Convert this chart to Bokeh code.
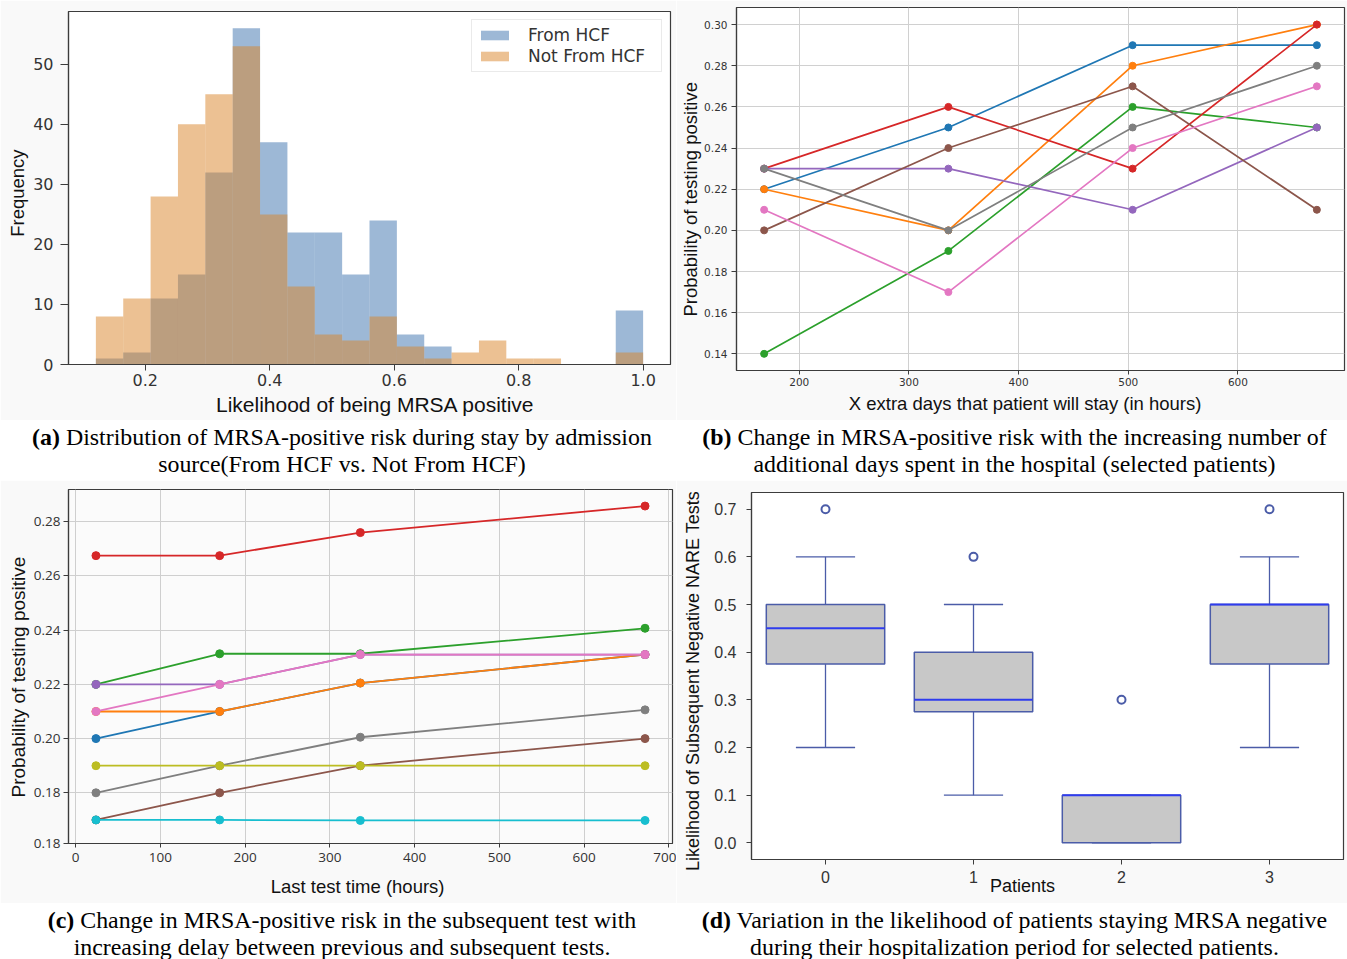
import numpy as np
from bokeh.plotting import figure
from bokeh.models import (Range1d, FixedTicker, PrintfTickFormatter, Legend,
                          LegendItem, Div)
from bokeh.layouts import column, row
from bokeh.embed import file_html
from bokeh.resources import INLINE

# ---------------- data ----------------
# (a) histogram of likelihood of being MRSA positive
hist_lo, hist_hi, hist_nbins = 0.1206, 1.0, 20
from_hcf_counts = [1, 2, 11, 15, 32, 56, 37, 22, 22, 15, 24, 5, 3, 0, 0, 0, 0, 0, 0, 9]
not_from_hcf_counts = [8, 11, 28, 40, 45, 53, 25, 13, 5, 4, 8, 3, 1, 2, 4, 1, 1, 0, 0, 2]
a_xticks = [0.2, 0.4, 0.6, 0.8, 1.0]
a_yticks = [0, 10, 20, 30, 40, 50]

# (b) extra days that patient will stay (hours)
b_hours = [168, 336, 504, 672]
b_blue = [0.22, 0.25, 0.29, 0.29]
b_orange = [0.22, 0.20, 0.28, 0.30]
b_green = [0.14, 0.19, 0.26, 0.25]
b_red = [0.23, 0.26, 0.23, 0.30]
b_purple = [0.23, 0.23, 0.21, 0.25]
b_brown = [0.20, 0.24, 0.27, 0.21]
b_pink = [0.21, 0.17, 0.24, 0.27]
b_gray = [0.23, 0.20, 0.25, 0.28]
b_xticks = [200, 300, 400, 500, 600]
b_yticks = [0.14, 0.16, 0.18, 0.20, 0.22, 0.24, 0.26, 0.28, 0.30]

# (c) last test time (hours)
c_hours = [24, 170, 336, 672]
c_blue = [0.20, 0.21, 0.2205, 0.231]
c_orange = [0.21, 0.21, 0.2205, 0.231]
c_green = [0.22, 0.2313, 0.2313, 0.2407]
c_red = [0.2675, 0.2675, 0.276, 0.2858]
c_purple = [0.22, 0.22, 0.231, 0.231]
c_brown = [0.17, 0.18, 0.19, 0.20]
c_pink = [0.21, 0.22, 0.231, 0.231]
c_gray = [0.18, 0.19, 0.2005, 0.2106]
c_olive = [0.19, 0.19, 0.19, 0.19]
c_cyan = [0.17, 0.17, 0.1698, 0.1698]
c_xticks = [0, 100, 200, 300, 400, 500, 600, 700]
c_yticks = [0.1613, 0.18, 0.20, 0.22, 0.24, 0.26, 0.28]
c_ytick_labels = ["0.18", "0.18", "0.20", "0.22", "0.24", "0.26", "0.28"]

# (d) box plot per patient
d_patients = [0, 1, 2, 3]
d_q1 = [0.375, 0.275, 0.0, 0.375]
d_median = [0.45, 0.30, 0.10, 0.50]
d_q3 = [0.50, 0.40, 0.10, 0.50]
d_whisker_low = [0.2, 0.1, 0.0, 0.2]
d_whisker_high = [0.6, 0.5, 0.1, 0.6]
d_outlier_x = [0, 1, 2, 3]
d_outlier_y = [0.7, 0.6, 0.3, 0.7]
d_yticks = [0.0, 0.1, 0.2, 0.3, 0.4, 0.5, 0.6, 0.7]

TAB = ["#1f77b4", "#ff7f0e", "#2ca02c", "#d62728", "#9467bd",
       "#8c564b", "#e377c2", "#7f7f7f", "#bcbd22", "#17becf"]

SPINE = "#3c3c3c"
BORDER_BG = "#f9f9f9"
NB = "\u00a0"


def base_style(p):
    p.outline_line_color = SPINE
    p.outline_line_width = 1.2
    p.border_fill_color = BORDER_BG
    for ax in p.axis:
        ax.axis_line_color = SPINE
        ax.axis_line_width = 1.2
        ax.major_tick_line_color = SPINE
        ax.major_tick_in = 0
        ax.minor_tick_line_color = None
        ax.axis_label_text_font_style = "normal"
        ax.axis_label_text_color = "#111111"
        ax.major_label_text_color = "#333333"


def set_axis(ax, ticks, font, size, tick_out, standoff, label=None,
             label_font="Liberation Sans", label_size="18px", label_standoff=5,
             fmt=None):
    ax.ticker = FixedTicker(ticks=ticks)
    if fmt is not None:
        ax.formatter = PrintfTickFormatter(format=fmt)
    ax.major_label_text_font = font
    ax.major_label_text_font_size = size
    ax.major_tick_out = tick_out
    ax.major_label_standoff = standoff
    if label is not None:
        ax.axis_label = label
        ax.axis_label_text_font = label_font
        ax.axis_label_text_font_size = label_size
        ax.axis_label_standoff = label_standoff


# ---------------- panel (a) ----------------
pa = figure(width=676, height=420, x_range=Range1d(0.0766, 1.044),
            y_range=Range1d(0, 58.8), output_backend="svg", toolbar_location=None,
            min_border_left=68, min_border_right=6, min_border_top=11,
            min_border_bottom=56)
base_style(pa)
pa.xgrid.visible = False
pa.ygrid.visible = False
edges = np.linspace(hist_lo, hist_hi, hist_nbins + 1)
r_hcf = pa.quad(left=edges[:-1], right=edges[1:], bottom=0, top=from_hcf_counts,
                fill_color="#3b71ad", fill_alpha=0.5, line_color=None)
r_not = pa.quad(left=edges[:-1], right=edges[1:], bottom=0, top=not_from_hcf_counts,
                fill_color="#d98327", fill_alpha=0.5, line_color=None)
set_axis(pa.xaxis[0], a_xticks, "DejaVu Sans", "16px", 6, 3,
         label=NB * 2 + "Likelihood of being MRSA positive", label_size="21px",
         label_standoff=4, fmt="%.1f")
set_axis(pa.yaxis[0], a_yticks, "DejaVu Sans", "16px", 8, 7,
         label="Frequency" + NB * 2, label_size="18.5px", label_standoff=2)
leg = Legend(items=[LegendItem(label="From HCF", renderers=[r_hcf]),
                    LegendItem(label="Not From HCF", renderers=[r_not])],
             location="top_right")
leg.label_text_font = "DejaVu Sans"
leg.label_text_font_size = "17px"
leg.label_text_color = "#333333"
leg.glyph_width = 35
leg.glyph_height = 12
leg.label_standoff = 16
leg.label_height = 18
leg.label_width = 128
leg.padding = 5
leg.spacing = 1
leg.margin = 8
leg.border_line_color = "#d6d6d6"
leg.border_line_width = 1
leg.background_fill_alpha = 0.9
pa.add_layout(leg)

# ---------------- panel (b) ----------------
pb = figure(width=671, height=420, x_range=Range1d(142.8, 697.2),
            y_range=Range1d(0.1319, 0.3083), output_backend="svg",
            toolbar_location=None, min_border_left=60, min_border_right=3,
            min_border_top=7, min_border_bottom=50)
base_style(pb)
for g in (pb.xgrid[0], pb.ygrid[0]):
    g.grid_line_color = "#d0d0d0"
    g.grid_line_width = 1
b_series = [b_blue, b_orange, b_green, b_red, b_purple, b_brown, b_pink, b_gray]
for i, ys in enumerate(b_series):
    pb.line(b_hours, ys, line_color=TAB[i], line_width=1.7)
    pb.scatter(b_hours, ys, size=7, color=TAB[i])
set_axis(pb.xaxis[0], b_xticks, "DejaVu Sans", "10.5px", 4, 3,
         label="X extra days that patient will stay (in hours)" + NB * 6,
         label_size="18.5px", label_standoff=4)
set_axis(pb.yaxis[0], b_yticks, "DejaVu Sans", "10.5px", 5, 4,
         label="Probability of testing positive" + NB * 4, label_size="18.5px",
         label_standoff=0, fmt="%.2f")

# ---------------- panel (c) ----------------
pc = figure(width=676, height=423, x_range=Range1d(-8.4, 704.4),
            y_range=Range1d(0.1613, 0.2919), output_backend="svg",
            toolbar_location=None, min_border_left=68, min_border_right=4,
            min_border_top=9, min_border_bottom=60)
base_style(pc)
pc.background_fill_color = "#fbfbfb"
for g in (pc.xgrid[0], pc.ygrid[0]):
    g.grid_line_color = "#cfcfcf"
    g.grid_line_width = 1
c_series = [c_blue, c_orange, c_green, c_red, c_purple, c_brown, c_pink,
            c_gray, c_olive, c_cyan]
for i, ys in enumerate(c_series):
    pc.line(c_hours, ys, line_color=TAB[i], line_width=1.8)
    pc.scatter(c_hours, ys, size=8, color=TAB[i])
set_axis(pc.xaxis[0], c_xticks, "Open Sans", "13.5px", 4, 5,
         label="Last test time (hours)" + NB * 5, label_size="18.5px",
         label_standoff=11)
set_axis(pc.yaxis[0], c_yticks, "Open Sans", "13.5px", 5, 3,
         label="Probability of testing positive" + NB * 4, label_size="19px",
         label_standoff=2, fmt="%.2f")
pc.yaxis[0].major_label_overrides = {v: t for v, t in zip(c_yticks, c_ytick_labels)}

# ---------------- panel (d) ----------------
pd_ = figure(width=671, height=423, x_range=Range1d(-0.5, 3.5),
             y_range=Range1d(-0.035, 0.735), output_backend="svg",
             toolbar_location=None, min_border_left=75, min_border_right=4,
             min_border_top=12, min_border_bottom=44)
base_style(pd_)
pd_.xgrid.visible = False
pd_.ygrid.visible = False
BOX_EDGE = "#4b5ca8"
px = np.array(d_patients, dtype=float)
pd_.segment(x0=px, y0=d_q3, x1=px, y1=d_whisker_high, line_color=BOX_EDGE, line_width=1.3)
pd_.segment(x0=px, y0=d_q1, x1=px, y1=d_whisker_low, line_color=BOX_EDGE, line_width=1.3)
pd_.segment(x0=px - 0.2, y0=d_whisker_high, x1=px + 0.2, y1=d_whisker_high,
            line_color=BOX_EDGE, line_width=1.3)
pd_.segment(x0=px - 0.2, y0=d_whisker_low, x1=px + 0.2, y1=d_whisker_low,
            line_color=BOX_EDGE, line_width=1.3)
pd_.quad(left=px - 0.4, right=px + 0.4, bottom=d_q1, top=d_q3,
         fill_color="#c8c8c8", line_color=BOX_EDGE, line_width=1.5)
pd_.segment(x0=px - 0.4, y0=d_median, x1=px + 0.4, y1=d_median,
            line_color="#2f3cee", line_width=2)
pd_.scatter(d_outlier_x, d_outlier_y, size=8, fill_color=None,
            line_color=BOX_EDGE, line_width=2)
set_axis(pd_.xaxis[0], d_patients, "Liberation Sans", "16px", 5, 6,
         label="Patients" + NB * 10, label_size="18px", label_standoff=-10)
set_axis(pd_.yaxis[0], d_yticks, "Liberation Sans", "16px", 5, 10,
         label="Likelihood of Subsequent Negative NARE Tests" + NB * 2,
         label_size="18px", label_standoff=8, fmt="%.1f")


# ---------------- captions ----------------
def caption(html, width, height, pad_top, shift=0):
    inner = ('<div style="font-family:\'Liberation Serif\';font-size:23.9px;'
             'line-height:27px;text-align:center;color:#000;white-space:nowrap;'
             'padding-top:%dpx;width:%dpx;position:relative;left:%dpx;">%s</div>'
             % (pad_top, width, shift, html))
    return Div(text=inner, width=width, height=height, margin=0,
               styles={"overflow": "hidden", "background-color": "#ffffff"})


cap_a = caption("<b>(a)</b> Distribution of MRSA-positive risk during stay by admission"
                "<br>source(From HCF vs. Not From HCF)", 676, 60, 4, 4)
cap_b = caption("<b>(b)</b> Change in MRSA-positive risk with the increasing number of"
                "<br>additional days spent in the hospital (selected patients)", 671, 60, 4, 3)
cap_c = caption("<b>(c)</b> Change in MRSA-positive risk in the subsequent test with"
                "<br>increasing delay between previous and subsequent tests.", 676, 56, 4, 4)
cap_d = caption("<b>(d)</b> Variation in the likelihood of patients staying MRSA negative"
                "<br>during their hospitalization period for selected patients.", 671, 56, 4, 3)

layout = column(row(column(pa), column(pb)), row(cap_a, cap_b),
                row(column(pc), column(pd_)), row(cap_c, cap_d))

with open("out.html", "w") as f:
    f.write(file_html(layout, INLINE))
